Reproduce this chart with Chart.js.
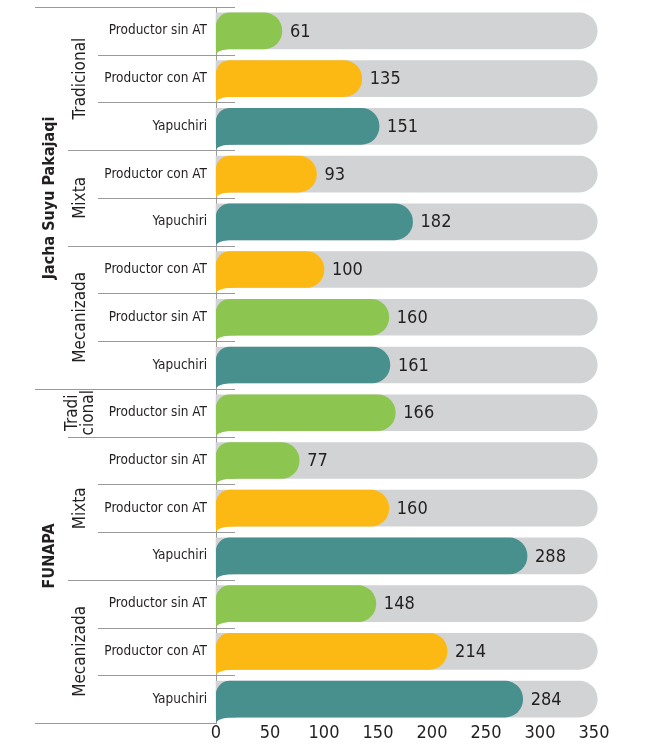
<!DOCTYPE html>
<html>
<head>
<meta charset="utf-8">
<script src="https://cdn.jsdelivr.net/npm/chart.js@4"></script>
<style>
    html, body { margin: 0; padding: 0; background: #fff; }
    #wrap { width: 645px; height: 749px; position: relative; }
</style>
</head>
<body>
<div id="wrap"><canvas id="chart"></canvas></div>
<script>
// datos
const categories = [
    'Productor sin AT', 'Productor con AT', 'Yapuchiri',
    'Productor con AT', 'Yapuchiri',
    'Productor con AT', 'Productor sin AT', 'Yapuchiri',
    'Productor sin AT',
    'Productor sin AT', 'Productor con AT', 'Yapuchiri',
    'Productor sin AT', 'Productor con AT', 'Yapuchiri'
];
const values = [61, 135, 151, 93, 182, 100, 160, 161, 166, 77, 160, 288, 148, 214, 284];
const trackValues = [353, 353, 353, 353, 353, 353, 353, 353, 353, 353, 353, 353, 353, 353, 353];
const xTicks = [0, 50, 100, 150, 200, 250, 300, 350];

// agrupaciones del eje vertical
const groupNames = ['Jacha Suyu Pakajaqi', 'FUNAPA'];
const groupSizes = [8, 7];
const systemNames = ['Tradicional', 'Mixta', 'Mecanizada', ['Tradi', 'cional'], 'Mixta', 'Mecanizada'];
const systemSizes = [3, 2, 3, 1, 3, 3];

const COLORS = {
    'Productor sin AT': '#8cc651',
    'Productor con AT': '#fdb913',
    'Yapuchiri': '#48908e'
};
const FONT = '"Liberation Sans Narrow", "DejaVu Sans Condensed", "Liberation Sans", sans-serif';
const TEXT = '#231f20';
const LINE = '#9a9a9a';

// líneas divisorias, etiquetas de grupo y colas de las barras
const groupPlugin = {
    id: 'groups',
    beforeDatasetsDraw(chart) {
        const { ctx, chartArea } = chart;
        const y = chart.scales.y;
        const n = categories.length;
        const half = (y.getPixelForValue(1) - y.getPixelForValue(0)) / 2;
        const edge = i => i === 0 ? chartArea.top : i === n ? chartArea.bottom : y.getPixelForValue(i) - half;

        const lvl1 = [0], lvl2 = [];
        groupSizes.reduce((s, g) => { lvl1.push(s + g); return s + g; }, 0);
        systemSizes.reduce((s, g) => { lvl2.push(s + g); return s + g; }, 0);

        ctx.save();
        ctx.strokeStyle = LINE;
        ctx.lineWidth = 1;
        for (let i = 0; i <= n; i++) {
            const x0 = lvl1.includes(i) ? 35 : lvl2.includes(i) ? 68 : 98;
            const yy = Math.round(edge(i)) + 0.5;
            ctx.beginPath();
            ctx.moveTo(x0, yy);
            ctx.lineTo(chartArea.left + (i === n ? 0 : 19), yy);
            ctx.stroke();
        }

        ctx.fillStyle = TEXT;
        ctx.textAlign = 'center';
        ctx.textBaseline = 'middle';
        // nivel 1
        let start = 0;
        groupNames.forEach((name, k) => {
            const mid = (edge(start) + edge(start + groupSizes[k])) / 2;
            ctx.save();
            ctx.translate(50, mid);
            ctx.rotate(-Math.PI / 2);
            ctx.font = 'bold 16px ' + FONT;
            ctx.fillText(name, 0, 0);
            ctx.restore();
            start += groupSizes[k];
        });
        // nivel 2
        start = 0;
        systemNames.forEach((name, k) => {
            const mid = (edge(start) + edge(start + systemSizes[k])) / 2;
            ctx.save();
            ctx.translate(81, mid);
            ctx.rotate(-Math.PI / 2);
            ctx.font = '17px ' + FONT;
            if (Array.isArray(name)) {
                ctx.fillText(name[0], 0, -8);
                ctx.fillText(name[1], 0, 8);
            } else {
                ctx.fillText(name, 0, 0);
            }
            ctx.restore();
            start += systemSizes[k];
        });
        ctx.restore();
    },
    afterDatasetsDraw(chart) {
        const { ctx } = chart;
        const meta = chart.getDatasetMeta(0);
        ctx.save();
        meta.data.forEach((bar, i) => {
            const p = bar.getProps(['x', 'y', 'base', 'height']);
            const bottom = p.y + p.height / 2;
            // cola inferior izquierda
            ctx.fillStyle = COLORS[categories[i]];
            ctx.beginPath();
            ctx.moveTo(p.base, bottom - 2);
            ctx.lineTo(p.base, bottom + 5);
            ctx.quadraticCurveTo(p.base + 4, bottom, p.base + 20, bottom);
            ctx.lineTo(p.base + 20, bottom - 2);
            ctx.closePath();
            ctx.fill();
            // valor
            ctx.fillStyle = TEXT;
            ctx.font = '18px ' + FONT;
            ctx.textAlign = 'left';
            ctx.textBaseline = 'middle';
            ctx.fillText(values[i], p.x + 8, p.y + 1);
        });
        ctx.restore();
    }
};

new Chart(document.getElementById('chart'), {
    type: 'bar',
    data: {
        labels: categories,
        datasets: [
            {
                data: values,
                backgroundColor: categories.map(c => COLORS[c]),
                barThickness: 36,
                borderSkipped: false,
                borderRadius: { topLeft: 14, topRight: 18, bottomRight: 18, bottomLeft: 0 },
                order: 0
            },
            {
                data: trackValues,
                backgroundColor: '#d1d3d4',
                barThickness: 36,
                borderSkipped: false,
                borderRadius: { topLeft: 0, topRight: 18, bottomRight: 18, bottomLeft: 0 },
                clip: false,
                order: 1
            }
        ]
    },
    options: {
        indexAxis: 'y',
        grouped: false,
        responsive: true,
        maintainAspectRatio: false,
        animation: false,
        layout: { padding: { top: 7, right: 51, bottom: 0, left: 0 } },
        plugins: { legend: { display: false }, tooltip: { enabled: false } },
        scales: {
            x: {
                min: 0, max: 350,
                afterBuildTicks: s => { s.ticks = xTicks.map(v => ({ value: v })); },
                afterFit: s => { s.height = 26; },
                grid: { display: false, drawTicks: false },
                border: { display: false },
                ticks: { color: TEXT, font: { family: FONT, size: 18 }, padding: 0 }
            },
            y: {
                afterFit: s => { s.width = 216; s.paddingTop = 0; s.paddingBottom = 0; },
                grid: { display: false, drawTicks: false },
                border: { display: true, color: LINE, width: 1 },
                ticks: { color: TEXT, font: { family: FONT, size: 13.5 }, padding: 9 }
            }
        }
    },
    plugins: [groupPlugin]
});
</script>
</body>
</html>
